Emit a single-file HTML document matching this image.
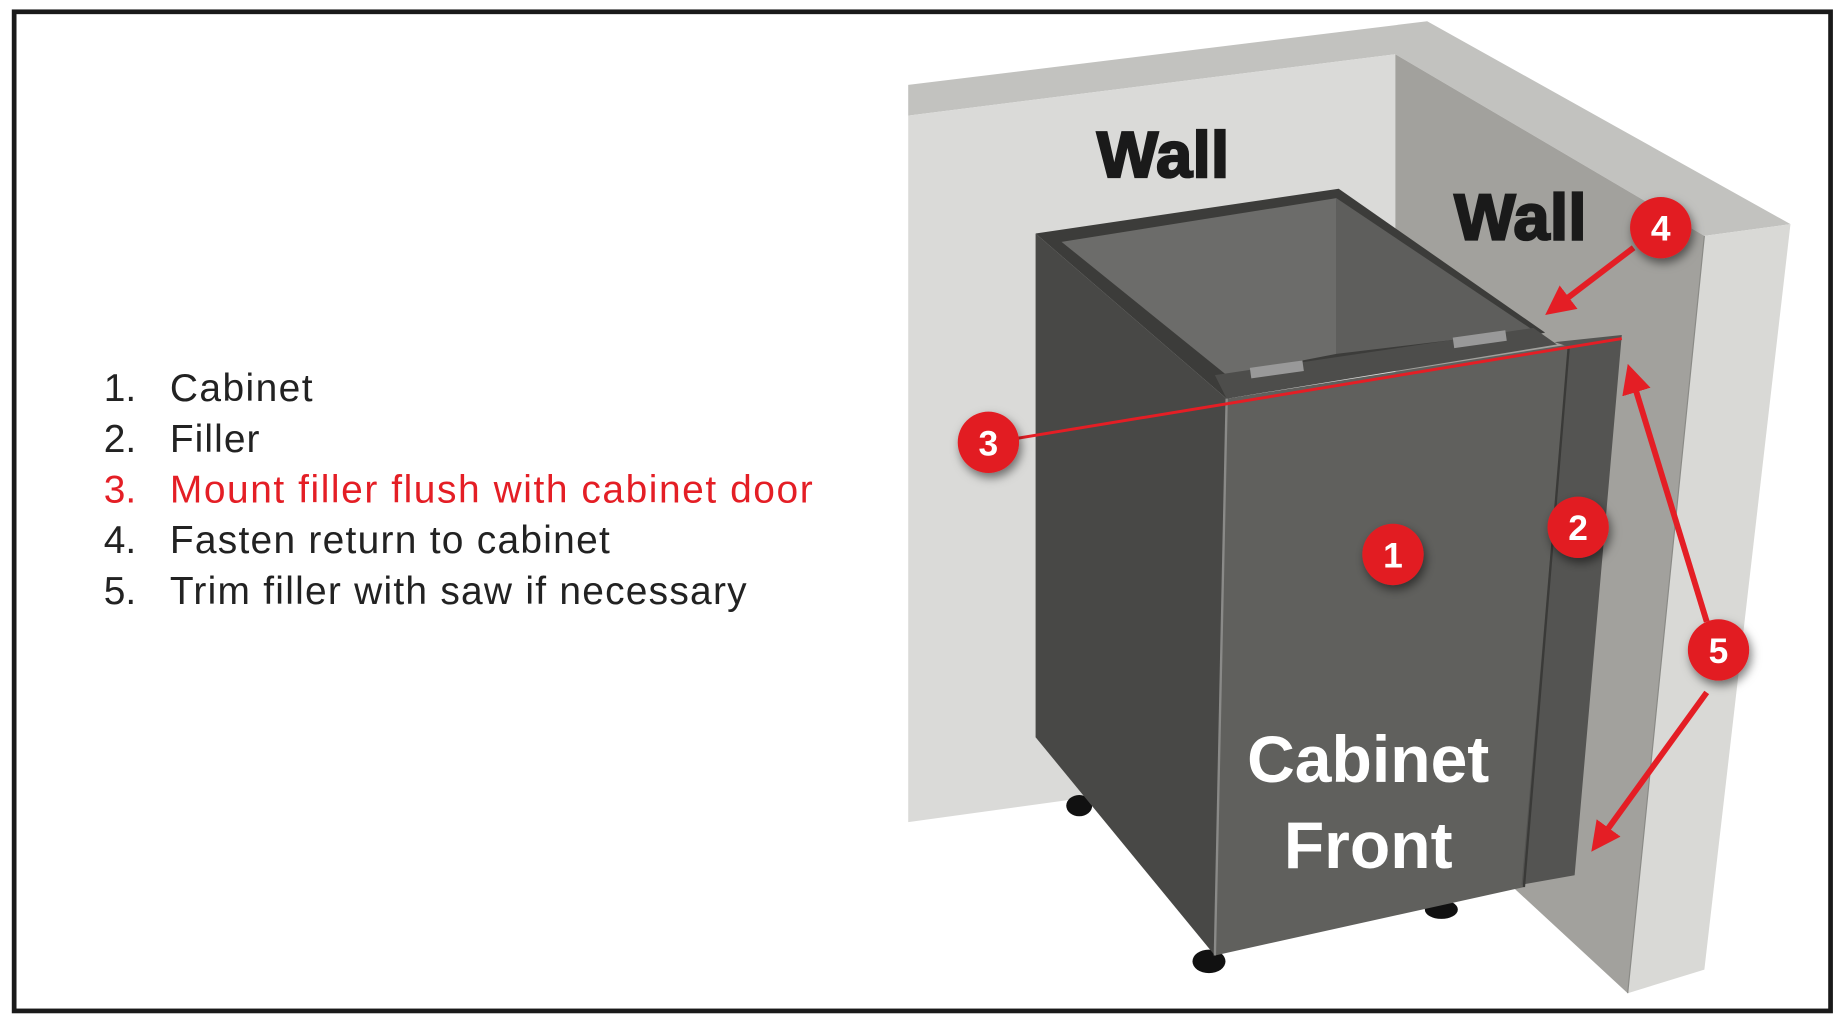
<!DOCTYPE html>
<html><head><meta charset="utf-8"><style>
html,body{margin:0;padding:0;background:#fff}
svg{display:block}
text{font-family:"Liberation Sans",sans-serif}
</style></head><body>
<svg width="1840" height="1018" viewBox="0 0 1560 863" preserveAspectRatio="none">
<defs>
<marker id="ah" markerWidth="5" markerHeight="5" refX="3" refY="2.5" orient="auto" markerUnits="strokeWidth">
<path d="M0,0 L5,2.5 L0,5 z" fill="#e41e25"/></marker>
<filter id="sh" x="-50%" y="-50%" width="200%" height="200%"><feDropShadow dx="2" dy="4" stdDeviation="4" flood-opacity="0.5"/></filter>
</defs>
<rect x="0" y="0" width="1560" height="863" fill="#fff"/>
<rect x="12" y="10" width="1540" height="847" fill="none" stroke="#1a1a1a" stroke-width="4"/>
<!-- walls -->
<polygon points="770,72 1210,18 1518,190 1445,200 1183,46 770,98" fill="#c2c2bf"/>
<polygon points="770,98 1183,46 1183,640 770,697" fill="#dadad8"/>
<polygon points="1183,46 1445,200 1380,842 1183,660" fill="#a2a19d"/>
<polygon points="1445,200 1518,190 1445,822 1380,842" fill="#d9d9d6"/>
<line x1="1445" y1="200" x2="1380" y2="842" stroke="#8a8a86" stroke-width="1"/>
<!-- legs -->
<ellipse cx="915" cy="683" rx="11" ry="9" fill="#111"/>
<ellipse cx="1025" cy="815" rx="14" ry="10" fill="#111"/>
<ellipse cx="1222" cy="771" rx="14" ry="8" fill="#111"/>
<!-- cabinet -->
<polygon points="878,198 1135,160 1310,282 1040,338" fill="#3c3c3a"/>
<polygon points="900,205 1133,168 1133,300 1040,318" fill="#6c6c6a"/>
<polygon points="1133,168 1300,280 1133,300" fill="#5e5e5c"/>
<polygon points="1030,318 1300,278 1320,292 1040,338" fill="#4d4d4b"/>
<rect x="1060" y="309" width="45" height="9" fill="#999" transform="rotate(-8 1080 313)"/>
<rect x="1232" y="283" width="45" height="9" fill="#999" transform="rotate(-8 1255 287)"/>
<polygon points="878,198 1040,338 1030,810 878,625" fill="#484846"/>
<polygon points="1040,338 1330,292 1292,752 1030,810" fill="#60605d"/>
<line x1="1040" y1="338" x2="1030" y2="810" stroke="#8a8a88" stroke-width="2"/>
<polygon points="1318,290 1375,284 1335,742 1290,750 1330,294" fill="#545452"/>
<line x1="1330" y1="294" x2="1292" y2="752" stroke="#3a3a38" stroke-width="2"/>
<!-- text -->
<text x="930" y="150" font-size="55" font-weight="bold" fill="#1a1a1a" stroke="#1a1a1a" stroke-width="2" textLength="112">Wall</text>
<text x="1233" y="203" font-size="55" font-weight="bold" fill="#1a1a1a" stroke="#1a1a1a" stroke-width="2" textLength="112">Wall</text>
<text x="1160" y="663" font-size="56" font-weight="bold" fill="#fff" text-anchor="middle">Cabinet</text>
<text x="1160" y="736" font-size="56" font-weight="bold" fill="#fff" text-anchor="middle">Front</text>
<g font-size="33" fill="#222">
<text x="88" y="340">1.</text><text x="144" y="340" textLength="121">Cabinet</text>
<text x="88" y="383">2.</text><text x="144" y="383" textLength="76">Filler</text>
<text x="88" y="426" fill="#e41e25">3.</text><text x="144" y="426" fill="#e41e25" textLength="545">Mount filler flush with cabinet door</text>
<text x="88" y="469">4.</text><text x="144" y="469" textLength="373">Fasten return to cabinet</text>
<text x="88" y="512">5.</text><text x="144" y="512" textLength="489">Trim filler with saw if necessary</text>
</g>
<!-- connectors -->
<line x1="860" y1="372" x2="1375" y2="287" stroke="#e41e25" stroke-width="2.5"/>
<g stroke="#e41e25" stroke-width="5" fill="none">
<line x1="1385" y1="210" x2="1318" y2="261" marker-end="url(#ah)"/>
<line x1="1447" y1="527" x2="1383" y2="318" marker-end="url(#ah)"/>
<line x1="1447" y1="587" x2="1355" y2="714" marker-end="url(#ah)"/>
</g>
<g filter="url(#sh)" fill="#e21d23">
<circle cx="1408" cy="193" r="26"/>
<circle cx="838" cy="375" r="26"/>
<circle cx="1338" cy="447" r="26"/>
<circle cx="1181" cy="470" r="26"/>
<circle cx="1457" cy="551" r="26"/>
</g>
<g font-size="30" font-weight="bold" fill="#fff" text-anchor="middle">
<text x="1408" y="204">4</text>
<text x="838" y="386">3</text>
<text x="1338" y="458">2</text>
<text x="1181" y="481">1</text>
<text x="1457" y="562">5</text>
</g>
</svg>
</body></html>
